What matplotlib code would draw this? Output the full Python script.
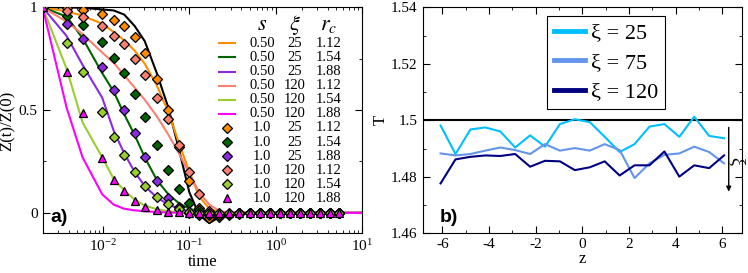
import matplotlib
matplotlib.use("Agg")
import matplotlib.pyplot as plt
from matplotlib.lines import Line2D
from matplotlib.ticker import MultipleLocator, FormatStrFormatter, LogLocator, NullFormatter

plt.rcParams["font.family"] = "serif"
plt.rcParams["font.serif"] = ["Liberation Serif", "DejaVu Serif"]
plt.rcParams["mathtext.fontset"] = "stix"
plt.rcParams["axes.unicode_minus"] = False

# ---- panel a data ----
t_mark = [0.002, 0.0038, 0.0058, 0.0098, 0.0133, 0.0176, 0.0232, 0.0305, 0.042,
          0.0573, 0.0757, 0.1, 0.13, 0.17, 0.223, 0.29, 0.38, 0.5, 0.655, 0.86,
          1.12, 1.47, 1.93, 2.52, 3.22, 4.22, 5.37]
orange_d = [1.0, 0.995, 0.987, 0.966, 0.94, 0.91, 0.857, 0.78, 0.65, 0.50, 0.32, 0.155,
            0.024, -0.025, -0.02, -0.012, -0.005, 0.0, 0.0, 0.0, 0.0, 0.0, 0.0, 0.0, 0.0, 0.0, 0.0]
green_d = [1.0, 0.958, 0.914, 0.83, 0.755, 0.68, 0.578, 0.468, 0.33, 0.21, 0.114, 0.05,
           0.016, -0.003, -0.008, -0.005, -0.002, 0.0, 0.0, 0.0, 0.0, 0.0, 0.0, 0.0, 0.0, 0.0, 0.0]
purple_d = [1.0, 0.919, 0.845, 0.711, 0.60, 0.50, 0.387, 0.27, 0.155, 0.07, 0.03, 0.0,
            -0.01, -0.01, -0.008, -0.004, 0.0, 0.0, 0.0, 0.0, 0.0, 0.0, 0.0, 0.0, 0.0, 0.0, 0.0]
salmon_d = [1.0, 0.98, 0.955, 0.91, 0.86, 0.82, 0.75, 0.67, 0.56, 0.455, 0.33, 0.20,
            0.09, 0.01, -0.01, -0.005, 0.0, 0.0, 0.0, 0.0, 0.0, 0.0, 0.0, 0.0, 0.0, 0.0, 0.0]
lime_d = [1.0, 0.825, 0.687, 0.489, 0.367, 0.284, 0.20, 0.13, 0.078, 0.042, 0.02, 0.005,
          0.0, 0.0, 0.0, 0.0, 0.0, 0.0, 0.0, 0.0, 0.0, 0.0, 0.0, 0.0, 0.0, 0.0, 0.0]
magenta_t = [1.0, 0.687, 0.484, 0.265, 0.16, 0.107, 0.06, 0.028, 0.013, 0.005, 0.002, 0.0,
             0.0, 0.0, 0.0, 0.0, 0.0, 0.0, 0.0, 0.0, 0.0, 0.0, 0.0, 0.0, 0.0, 0.0, 0.0]

t_line = [0.002, 0.0038, 0.0058, 0.0098, 0.0133, 0.0176, 0.0232, 0.0305, 0.042, 0.0573,
          0.0757, 0.1, 0.13, 0.17, 0.223, 0.29, 0.38, 1.0, 10.0]
black_l = [1.0, 1.0, 0.998, 0.99, 0.985, 0.965, 0.91, 0.835, 0.68, 0.51, 0.31, 0.10,
           -0.01, -0.05, -0.02, -0.005, 0.0, 0.0, 0.0]
orange_l = [1.0, 0.98, 0.96, 0.92, 0.88, 0.84, 0.79, 0.725, 0.62, 0.49, 0.34, 0.20,
            0.08, 0.02, 0.003, 0.0, 0.0, 0.0, 0.0]
green_l = [1.0, 0.955, 0.85, 0.68, 0.59, 0.48, 0.38, 0.27, 0.16, 0.09, 0.047, 0.02,
           0.008, 0.002, 0.0, 0.0, 0.0, 0.0, 0.0]
purple_l = [1.0, 0.86, 0.72, 0.56, 0.40, 0.29, 0.20, 0.13, 0.075, 0.04, 0.02, 0.008,
            0.002, 0.0, 0.0, 0.0, 0.0, 0.0, 0.0]
salmon_l = [1.0, 0.93, 0.87, 0.78, 0.73, 0.67, 0.61, 0.55, 0.47, 0.38, 0.29, 0.19,
            0.10, 0.04, 0.01, 0.0, 0.0, 0.0, 0.0]
lime_l = [1.0, 0.70, 0.44, 0.27, 0.165, 0.11, 0.065, 0.035, 0.018, 0.008, 0.003, 0.0,
          0.0, 0.0, 0.0, 0.0, 0.0, 0.0, 0.0]
magenta_l = [1.0, 0.51, 0.27, 0.09, 0.04, 0.02, 0.012, 0.008, 0.004, 0.002, 0.0, 0.0,
             0.0, 0.0, 0.0, 0.0, 0.0, 0.0, 0.0]

legend_s = ["0.50", "0.50", "0.50", "0.50", "0.50", "0.50", "1.0", "1.0", "1.0", "1.0", "1.0", "1.0"]
legend_xi = ["25", "25", "25", "120", "120", "120", "25", "25", "25", "120", "120", "120"]
legend_rc = ["1.12", "1.54", "1.88", "1.12", "1.54", "1.88", "1.12", "1.54", "1.88", "1.12", "1.54", "1.88"]

# ---- panel b data ----
z = [-6.08, -5.44, -4.80, -4.16, -3.52, -2.88, -2.24, -1.60, -0.96, -0.32,
     0.32, 0.96, 1.60, 2.24, 2.88, 3.52, 4.16, 4.80, 5.44, 6.08]
T_25 = [1.4982, 1.4881, 1.4968, 1.4975, 1.4961, 1.4904, 1.4947, 1.4907, 1.4987, 1.5004,
        1.4994, 1.4942, 1.4888, 1.4916, 1.4978, 1.4987, 1.4942, 1.5013, 1.4945, 1.4937]
T_75 = [1.4883, 1.4876, 1.4881, 1.4893, 1.4904, 1.4895, 1.4881, 1.4916, 1.4893, 1.4902,
        1.4893, 1.4916, 1.4895, 1.4796, 1.4848, 1.4878, 1.4883, 1.4907, 1.4888, 1.4848]
T_120 = [1.4777, 1.4862, 1.4871, 1.4876, 1.4874, 1.4881, 1.4836, 1.4857, 1.4855, 1.4824,
         1.4834, 1.4855, 1.4805, 1.4841, 1.4841, 1.4890, 1.4801, 1.4841, 1.4831, 1.4876]

c_orange = "#ff8c00"
c_green = "#006400"
c_purple = "#8a2be2"
c_salmon = "#fa8072"
c_lime = "#9acd32"
c_magenta = "#ff00ff"

fig = plt.figure(figsize=(7.48, 2.73), dpi=100)
ax1 = fig.add_axes([0.057, 0.145, 0.427, 0.828])
ax2 = fig.add_axes([0.565, 0.145, 0.427, 0.828])

# ---- panel a ----
lines = [(orange_l, c_orange), (green_l, c_green), (purple_l, c_purple),
         (salmon_l, c_salmon), (lime_l, c_lime), (magenta_l, c_magenta)]
ax1.plot(t_line, black_l, color="black", lw=1.5, zorder=2)
for vals, col in lines:
    ax1.plot(t_line, vals, color=col, lw=1.5, zorder=2)

marks = [(orange_d, c_orange, "D"), (green_d, c_green, "D"), (purple_d, c_purple, "D"),
         (salmon_d, c_salmon, "D"), (lime_d, c_lime, "D"), (magenta_t, c_magenta, "^")]
for vals, col, m in marks:
    ax1.plot(t_mark, vals, ls="none", marker=m, ms=4.6 if m == "D" else 5.5,
             mfc=col, mec="black", mew=0.9, zorder=3)

ax1.set_xscale("log")
ax1.set_xlim(0.002, 10)
ax1.set_ylim(-0.1, 1.0)
ax1.xaxis.set_major_locator(LogLocator(base=10, numticks=10))
ax1.xaxis.set_minor_locator(LogLocator(base=10, subs=range(2, 10), numticks=20))
ax1.xaxis.set_minor_formatter(NullFormatter())
ax1.set_yticks([0, 0.5, 1.0])
ax1.set_yticklabels(["0", "0.5", "1"])
ax1.yaxis.set_minor_locator(MultipleLocator(0.25))
ax1.set_xlabel("time", fontsize=12, labelpad=0)
ax1.set_ylabel("Z(t)/Z(0)", fontsize=12, labelpad=2)
ax1.text(0.025, 0.07, "a)", transform=ax1.transAxes, fontsize=14,
         fontweight="bold", family="Liberation Sans", va="center")

# hand-made legend table
tr = ax1.transAxes
hx = [0.687, 0.790, 0.894]
ax1.text(hx[0], 0.922, "$s$", transform=tr, ha="center", va="center", fontsize=16)
ax1.text(hx[1], 0.922, r"$\xi$", transform=tr, ha="center", va="center", fontsize=16)
ax1.text(hx[2], 0.922, "$r_c$", transform=tr, ha="center", va="center", fontsize=16)
for i in range(12):
    yy = 0.841 - 0.0624 * i
    if i < 6:
        col = lines[i][1]
        ax1.add_line(Line2D([0.553, 0.602], [yy, yy], transform=tr, color=col, lw=1.5))
    else:
        vals, col, m = marks[i - 6]
        ax1.add_line(Line2D([0.578], [yy], transform=tr, ls="none", marker=m,
                            ms=5.2 if m == "D" else 6, mfc=col, mec="black", mew=0.9))
    ax1.text(hx[0], yy, legend_s[i], transform=tr, ha="center", va="center", fontsize=10.5)
    ax1.text(hx[1], yy, legend_xi[i], transform=tr, ha="center", va="center", fontsize=10.5)
    ax1.text(hx[2], yy, legend_rc[i], transform=tr, ha="center", va="center", fontsize=10.5)

# ---- panel b ----
ax2.axhline(1.5, color="black", lw=1.5, zorder=1)
ax2.plot(z, T_25, color="#00bfff", lw=1.5, label="ξ = 25")
ax2.plot(z, T_75, color="#6495ed", lw=1.5, label="ξ = 75")
ax2.plot(z, T_120, color="#000080", lw=1.5, label="ξ = 120")
ax2.set_xlim(-6.85, 6.85)
ax2.set_ylim(1.46, 1.54)
ax2.xaxis.set_major_locator(MultipleLocator(2))
ax2.xaxis.set_minor_locator(MultipleLocator(1))
ax2.yaxis.set_major_locator(MultipleLocator(0.02))
ax2.yaxis.set_minor_locator(MultipleLocator(0.01))
ax2.yaxis.set_major_formatter(FormatStrFormatter("%g"))
ax2.set_xlabel("z", fontsize=12, labelpad=0)
ax2.set_ylabel("T", fontsize=12, labelpad=2)
ax2.annotate("", xy=(6.28, 1.4738), xytext=(6.28, 1.4985),
             arrowprops=dict(arrowstyle="-|>", color="black", lw=1.0, mutation_scale=7))
ax2.text(6.6, 1.4855, "ξ", rotation=-90, fontsize=13, ha="center", va="center")
ax2.text(0.055, 0.07, "b)", transform=ax2.transAxes, fontsize=14,
         fontweight="bold", family="Liberation Sans", va="center")
leg = ax2.legend(loc="upper left", bbox_to_anchor=(0.389, 0.961), fontsize=16,
                 handlelength=1.4, handletextpad=0.3, borderpad=0.3, labelspacing=0.4,
                 borderaxespad=0, fancybox=False, framealpha=1, edgecolor="black")
for h in leg.get_lines():
    h.set_linewidth(3.5)
leg.get_frame().set_linewidth(0.8)

for ax in (ax1, ax2):
    ax.tick_params(which="both", direction="in", top=True, right=True, labelsize=11)
    ax.tick_params(which="major", length=5)
    ax.tick_params(which="minor", length=2.5)
    for sp in ax.spines.values():
        sp.set_linewidth(0.8)

fig.savefig("out.png", dpi=100)
